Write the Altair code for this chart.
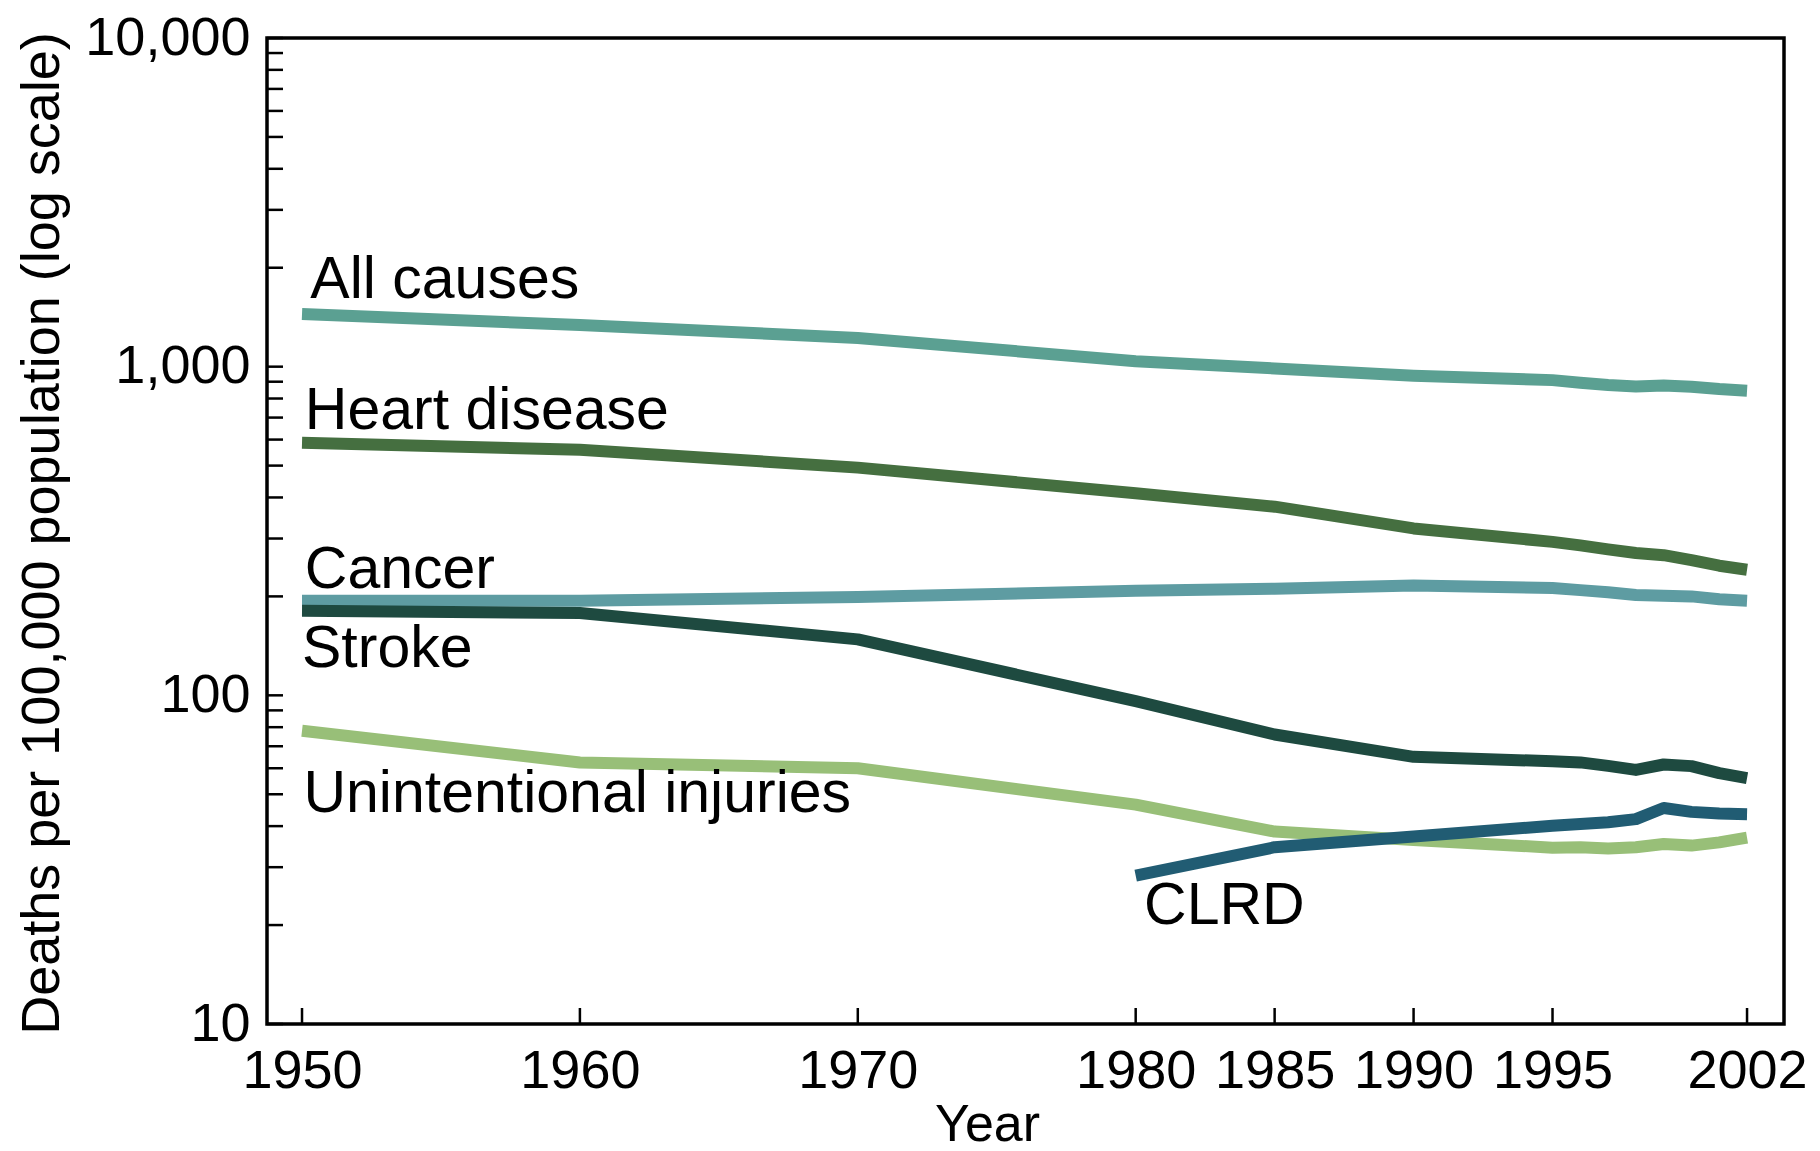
import altair as alt
import pandas as pd

# ---- data ----
years = [1950, 1960, 1970, 1980, 1985, 1990, 1995, 1996, 1997, 1998, 1999, 2000, 2001, 2002]
all_causes = [1446, 1339, 1223, 1039, 988, 939, 910, 894, 879, 870, 876, 869, 855, 845]
heart_disease = [587, 559, 493, 412, 375, 322, 293, 286, 278, 271, 267, 258, 248, 241]
cancer = [194, 194, 199, 208, 211, 216, 212, 209, 206, 202, 201, 200, 196, 194]
stroke = [181, 178, 148, 96, 76, 65, 63, 62.5, 61, 59.3, 61.6, 60.9, 58, 56]
injuries = [78, 62.5, 60, 46.5, 38.5, 36.3, 34.4, 34.5, 34.2, 34.5, 35.3, 34.9, 35.7, 36.9]
clrd_years = [1980, 1985, 1990, 1995, 1996, 1997, 1998, 1999, 2000, 2001, 2002]
clrd = [28.3, 34.5, 37.2, 40.1, 40.6, 41.1, 42.0, 45.4, 44.2, 43.7, 43.5]

series_names = ["All causes", "Heart disease", "Cancer", "Stroke", "Unintentional injuries", "CLRD"]
series_colors = ["#5BA092", "#456F40", "#5E9CA2", "#1E4A40", "#98BF78", "#215C73"]

label_years = [1950.3, 1950.1, 1950.1, 1950.0, 1950.05, 1980.3]
label_values = [1618, 646, 212, 122, 44.2, 20.1]

x_tick_years = [1950, 1960, 1970, 1980, 1985, 1990, 1995, 2002]
y_major = [10, 100, 1000, 10000]
y_minor = [m * d for d in (10, 100, 1000) for m in range(2, 10)]

# ---- tables ----
rows = []
for name, vals in zip(series_names[:5], [all_causes, heart_disease, cancer, stroke, injuries]):
    for yr, v in zip(years, vals):
        rows.append({"series": name, "year": yr, "rate": v})
for yr, v in zip(clrd_years, clrd):
    rows.append({"series": "CLRD", "year": yr, "rate": v})
df = pd.DataFrame(rows)

labels_df = pd.DataFrame({"series": series_names, "year": label_years, "rate": label_values})
yticks_df = pd.DataFrame({"year": [1950] * len(y_major + y_minor), "rate": y_major + y_minor})
xticks_df = pd.DataFrame({"year": x_tick_years, "rate": [10] * len(x_tick_years)})

W, H = 1517, 986
FONT = "Liberation Sans"

xscale = alt.Scale(domain=[1948.74, 2003.33], nice=False, zero=False)
yscale = alt.Scale(type="log", domain=[10, 10000], nice=False)
cscale = alt.Scale(domain=series_names, range=series_colors)

xaxis = alt.Axis(values=x_tick_years, format="d", title="Year",
                 domain=False, ticks=False, tickSize=0, grid=False,
                 labelFontSize=54, labelColor="black", labelPadding=20,
                 labelFlush=False, labelOverlap=False,
                 titleFontSize=52, titleFontWeight="normal", titleColor="black",
                 titleX=720, titleY=116, titleBaseline="alphabetic",
                 titleAlign="center", titleAnchor="start")
yaxis = alt.Axis(values=y_major, format=",d",
                 title="Deaths per 100,000 population (log scale)",
                 domain=False, ticks=False, tickSize=0, grid=False,
                 labelFontSize=54, labelColor="black", labelPadding=17,
                 labelBaseline="middle", labelFlush=False, labelOverlap=False,
                 titleFontSize=54, titleFontWeight="normal", titleColor="black",
                 titleAngle=-90, titleX=-209, titleY=495,
                 titleBaseline="alphabetic", titleAlign="center",
                 titleAnchor="start")

X = alt.X("year:Q", scale=xscale, axis=xaxis)
Y = alt.Y("rate:Q", scale=yscale, axis=yaxis)

lines = alt.Chart(df).mark_line(strokeWidth=12, strokeCap="butt", strokeJoin="round").encode(
    x=X, y=Y,
    color=alt.Color("series:N", scale=cscale, legend=None),
    detail="series:N",
)

texts = alt.Chart(labels_df).mark_text(
    align="left", baseline="alphabetic", fontSize=59, font=FONT, color="black"
).encode(x=X, y=Y, text="series:N")

yticks = alt.Chart(yticks_df).mark_rule(color="black", strokeWidth=2.5).encode(
    y=Y,
    x=alt.value(0),
    x2=alt.value(16),
)

xticks = alt.Chart(xticks_df).mark_rule(color="black", strokeWidth=2.5).encode(
    x=X,
    y=alt.value(H),
    y2=alt.value(H - 16),
)

chart = alt.layer(lines, texts, yticks, xticks).properties(
    width=W, height=H,
    autosize=alt.AutoSizeParams(type="none"),
    padding={"left": 259, "top": 30, "right": 28, "bottom": 127},
    background="white",
).configure(font=FONT).configure_view(stroke="black", strokeWidth=3.5)

chart.save("out.html", embed_options={"renderer": "svg", "actions": False})
